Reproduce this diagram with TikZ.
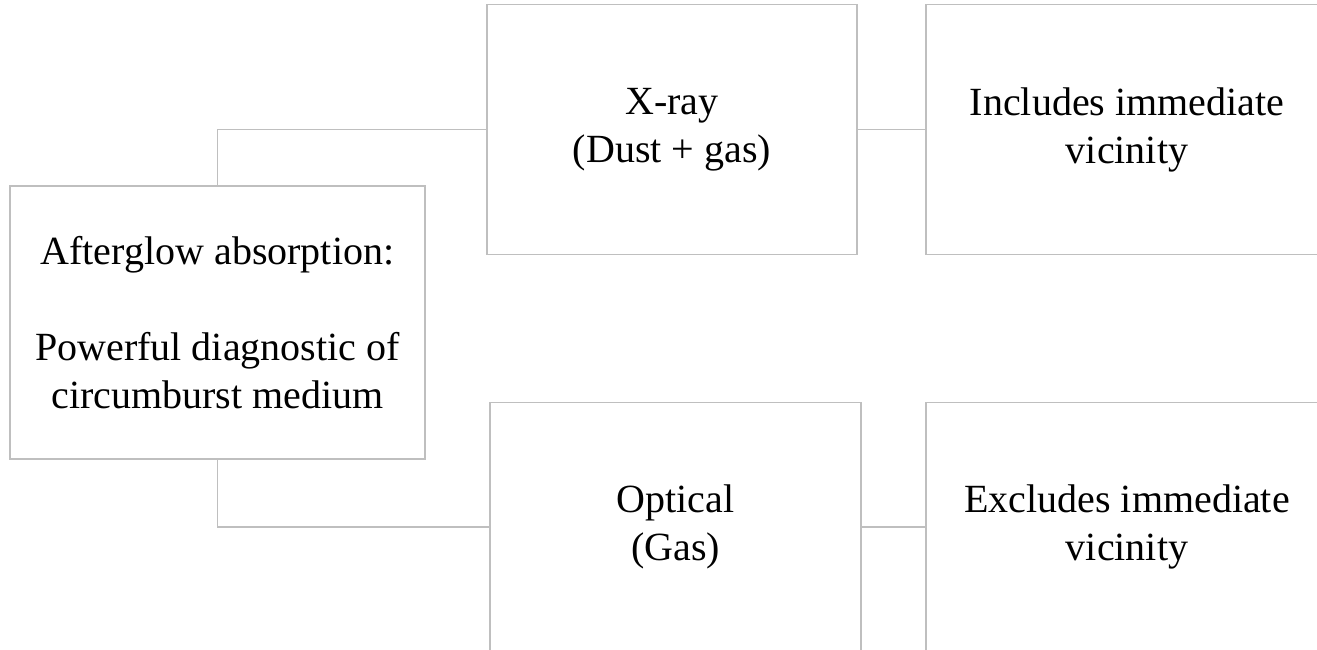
\documentclass[tikz,border=0pt]{standalone}
\usepackage{fontspec}
\setmainfont{Liberation Serif}

\begin{document}
\begin{tikzpicture}[x=1pt,y=-1pt]
	\tikzstyle{box} = [rectangle,draw=black!25,line width=1.5pt,align=center,inner sep=0pt,font=\fontsize{40}{48}\selectfont]
	\tikzstyle{link} = [draw=black!25,line width=1.5pt]
	
	\useasboundingbox (0,0) rectangle (1317,650);
	
	\node[box,minimum width=415,minimum height=273](aft) at (217.5,322.5){Afterglow absorption:\\[48pt]Powerful diagnostic of\\circumburst medium};
	
	\node[box,minimum width=370,minimum height=249.5](xray) at (672,129.5){X-ray\\(Dust + gas)};
	\node[box,minimum width=402,minimum height=249.5](incl) at (1127,129.5){Includes immediate\\vicinity};
	
	\node[box,minimum width=371,minimum height=249.5](opt) at (675.5,527){Optical\\(Gas)};
	\node[box,minimum width=402,minimum height=249.5](excl) at (1127,527){Excludes immediate\\vicinity};
	
	\draw[link] (aft.north) |- (xray.west);
	\draw[link] (aft.south) |- (opt.west);
	\path[link] (xray) edge (incl)
	(opt) edge (excl);
\end{tikzpicture}
\end{document}
